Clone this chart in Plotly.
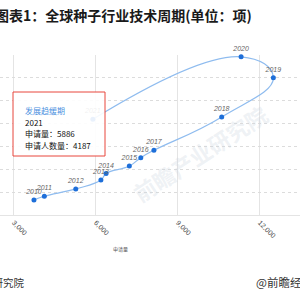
import plotly.graph_objects as go

years = ["2010", "2011", "2012", "2013", "2014", "2015", "2016", "2017", "2018", "2019", "2020", "2021"]
applications = [3730, 4110, 5260, 6180, 6370, 7220, 7640, 8120, 10600, 12490, 11310, 5886]
applicants = [660, 820, 1140, 1530, 1820, 2140, 2510, 2830, 4290, 6010, 6920, 4187]
x_ticks = [3000, 6000, 9000, 12000]

W, H = 300, 300
L, R, T, B = 0, 0, 55, 85
PW, PH = W - L - R, H - T - B

def px(x):
    return (x - L) / PW

def py(y):
    return (H - B - y) / PH

fig = go.Figure()
fig.add_trace(go.Scatter(
    x=applications, y=applicants, mode="lines+markers+text",
    text=years, textposition="top center",
    textfont=dict(family="Liberation Sans, Arial", size=7, color="#666666", style="italic"),
    line=dict(color="#8fbcef", width=1.2, shape="spline", smoothing=1.3),
    marker=dict(color="#1e6fd9", size=5),
    cliponaxis=False, hoverinfo="skip", showlegend=False,
))

annotations = []
# watermark
annotations.append(dict(
    text="<b>前瞻产业研究院</b>", xref="paper", yref="paper", x=px(200), y=py(95),
    showarrow=False, textangle=-33,
    font=dict(family="Noto Sans CJK SC", size=22, color="rgba(200,210,222,0.3)"),
))
# title
annotations.append(dict(
    text="<b>图表1：全球种子行业技术周期(单位：项)</b>", xref="paper", yref="paper",
    x=px(-7), y=py(15), xanchor="left", yanchor="middle", showarrow=False,
    font=dict(family="Noto Sans CJK SC", size=14, color="#1a1a1a"),
))
# tooltip box
i = years.index("2021")
lines = [
    ("发展趋缓期", "#4a8fe0", 110),
    (years[i], "#111111", 122),
    ("申请量：" + str(applications[i]), "#111111", 133),
    ("申请人数量：" + str(applicants[i]), "#111111", 145),
]
for txt, col, yy in lines:
    annotations.append(dict(
        text=txt, xref="paper", yref="paper", x=px(23), y=py(yy),
        xanchor="left", yanchor="middle", showarrow=False,
        font=dict(family="Noto Sans CJK SC", size=8, color=col),
    ))
# axis title
annotations.append(dict(
    text="申请量", xref="paper", yref="paper", x=px(120), y=py(255),
    showarrow=False, font=dict(family="Noto Sans CJK SC", size=5, color="#555555"),
))
# footer
annotations.append(dict(
    text="资料来源：前瞻产业研究院", xref="paper", yref="paper", x=px(26), y=py(282),
    xanchor="right", yanchor="middle", showarrow=False,
    font=dict(family="Noto Sans CJK SC", size=10.5, color="#333333"),
))
annotations.append(dict(
    text="@前瞻经济学人APP", xref="paper", yref="paper", x=px(254), y=py(282),
    xanchor="left", yanchor="middle", showarrow=False,
    font=dict(family="Noto Sans CJK SC", size=11.5, color="#333333"),
))

fig.update_layout(
    width=W, height=H,
    margin=dict(l=L, r=R, t=T, b=B),
    paper_bgcolor="white", plot_bgcolor="white",
    annotations=annotations,
    shapes=[dict(
        type="rect", xref="paper", yref="paper",
        x0=px(13), x1=px(105), y0=py(156), y1=py(92),
        line=dict(color="#e8473d", width=1), fillcolor="rgba(255,255,255,0.9)",
        layer="above",
    )],
    xaxis=dict(
        range=[2488, 13465], tickvals=x_ticks, tickformat=",", tickangle=45,
        showgrid=True, gridcolor="#e4e4e4", gridwidth=1,
        showline=True, linecolor="#e4e4e4", zeroline=False, ticks="",
        tickfont=dict(family="Liberation Sans, Arial", size=7, color="#444444"),
    ),
    yaxis=dict(
        range=[0, 7000], dtick=1000, showticklabels=False,
        showgrid=True, gridcolor="#dcdcdc", griddash="dot", zeroline=False,
    ),
)

fig.write_html("out.html")
